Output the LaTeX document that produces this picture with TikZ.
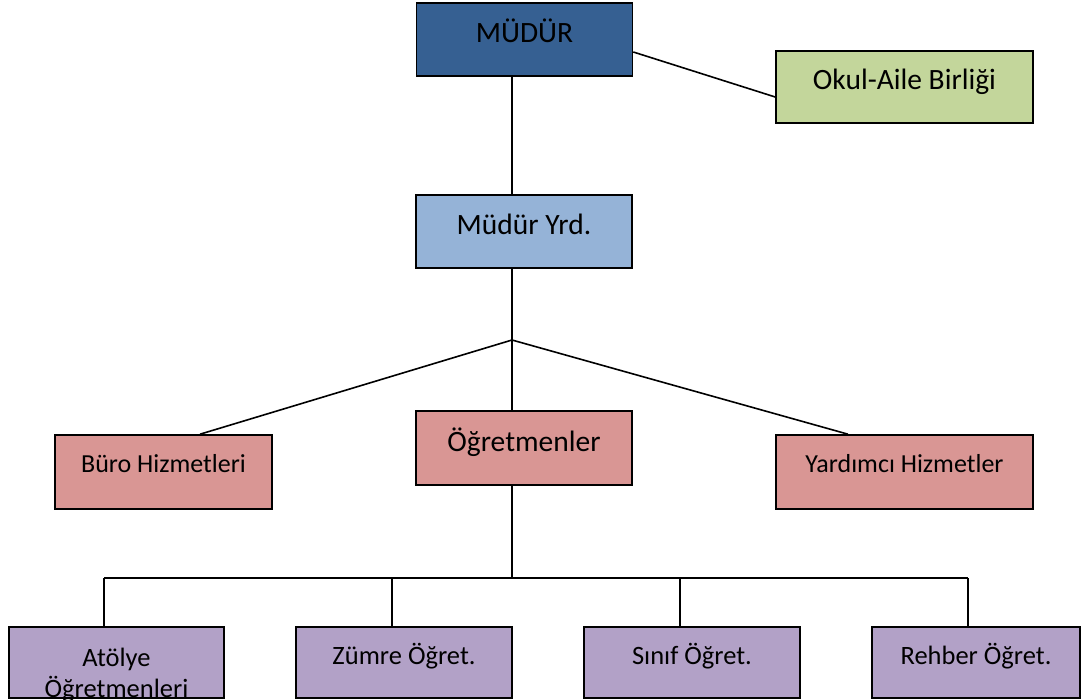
\documentclass[tikz,border=0pt]{standalone}
\usepackage{fontspec}
\setmainfont{Carlito}
\usepackage{tikz}

\definecolor{mudurblue}{HTML}{366092}
\definecolor{yrdblue}{HTML}{95B3D7}
\definecolor{aileGreen}{HTML}{C3D69B}
\definecolor{hizmetRed}{HTML}{D99694}
\definecolor{ogretPurple}{HTML}{B2A1C7}

\begin{document}
\begin{tikzpicture}[x=1pt, y=-1pt,
        box/.style={draw, line width=1.6pt, inner sep=0pt, minimum width=216pt, minimum height=73pt},
        bigbox/.style={box, font=\fontsize{29.5}{33}\selectfont, text height=20pt, text depth=14pt},
        midbox/.style={box, font=\fontsize{26}{30}\selectfont, text height=16pt, text depth=16pt},
        lowbox/.style={box, fill=ogretPurple, minimum height=71pt, font=\fontsize{26.5}{31}\selectfont, text height=18pt, text depth=14pt},
        link/.style={line width=1.6pt}]
        \useasboundingbox (0,0) rectangle (1081,699);

        \node[bigbox, fill=mudurblue] (mudur) at (524.5,39.5) {MÜDÜR};
        \node[bigbox, fill=aileGreen, minimum width=257pt, minimum height=72pt, text depth=15pt] (okul) at (904.5,87) {Okul-Aile Birliği};
        \node[bigbox, fill=yrdblue] (yrd) at (524,231.5) {Müdür Yrd.};

        \node[midbox, fill=hizmetRed, minimum width=217pt, minimum height=74pt] (buro) at (163.5,472) {Büro Hizmetleri};
        \node[bigbox, fill=hizmetRed, minimum height=74pt] (ogretmen) at (524,448) {Öğretmenler};
        \node[midbox, fill=hizmetRed, minimum width=257pt, minimum height=74pt] (yardimci) at (904.5,472) {Yardımcı Hizmetler};

        \node[lowbox, minimum width=215pt, align=center, text height=70pt, text depth=1pt] (atolye) at (116.5,662.5) {Atölye\\Öğretmenleri};
        \node[lowbox] (zumre) at (404,662.5) {Zümre Öğret.};
        \node[lowbox] (sinif) at (692,662.5) {Sınıf Öğret.};
        \node[lowbox, minimum width=208pt] (rehber) at (976,662.5) {Rehber Öğret.};

        \coordinate (split) at (512,340);
        \coordinate (bar) at (512,578);

        \draw[link] ([xshift=-12.5pt]mudur.south) -- ([xshift=-12pt]yrd.north);
        \draw[link] ([yshift=-12.5pt]mudur.east) -- ([yshift=-10pt]okul.west);
        \draw[link] ([xshift=-12pt]yrd.south) -- (split);
        \draw[link] (split) -- ([xshift=36.5pt]buro.north);
        \draw[link] (split) -- ([xshift=-12pt]ogretmen.north);
        \draw[link] (split) -- ([xshift=-56.5pt]yardimci.north);
        \draw[link] ([xshift=-12pt]ogretmen.south) -- (bar);
        \draw[link] ([xshift=-12.5pt]atolye.north |- bar) -- ([xshift=-8pt]rehber.north |- bar);
        \foreach \unit/\dx in {atolye/-12.5, zumre/-12, sinif/-12, rehber/-8}
            \draw[link] ([xshift=\dx pt]\unit.north |- bar) -- ([xshift=\dx pt]\unit.north);
    \end{tikzpicture}
\end{document}
